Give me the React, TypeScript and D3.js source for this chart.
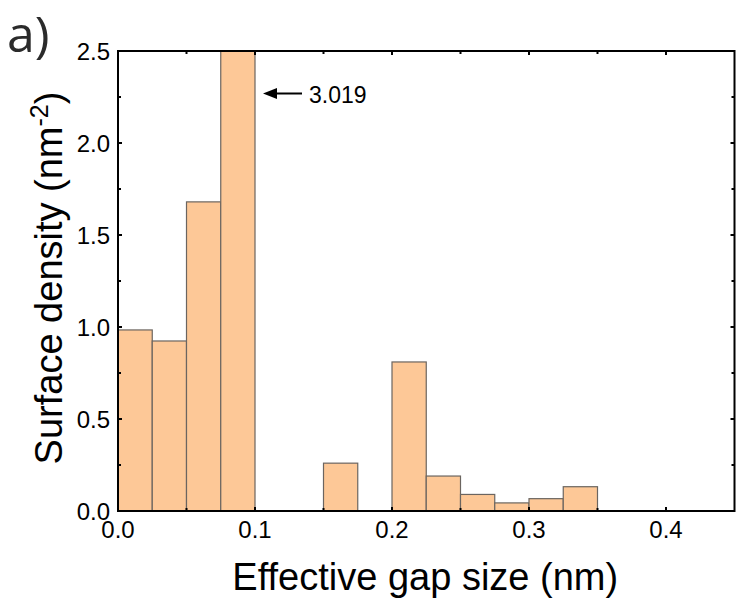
import React from 'react';
import * as d3 from 'd3';

// histogram bins (nm) and surface density (nm^-2)
const binStarts = [0, 0.025, 0.05, 0.075, 0.15, 0.2, 0.225, 0.25, 0.275, 0.3, 0.325];
const densities = [0.984, 0.924, 1.68, 3.019, 0.26, 0.81, 0.19, 0.09, 0.044, 0.067, 0.132];
const binWidth = 0.025;

const xTicks = [0, 0.1, 0.2, 0.3, 0.4];
const xMinor = [0.05, 0.15, 0.25, 0.35];
const yTicks = [0, 0.5, 1.0, 1.5, 2.0, 2.5];
const yMinor = [0.25, 0.75, 1.25, 1.75, 2.25];

const W = 736;
const H = 601;
const margin = { left: 118, right: 1.5, top: 51, bottom: 90 };

const font = "'Liberation Sans', Arial, sans-serif";

const Ticks = ({ children }: { children: React.ReactNode }) => <>{children}</>;

export default function App() {
	const x = d3.scaleLinear().domain([0, 0.45]).range([margin.left, W - margin.right]);
	const y = d3.scaleLinear().domain([0, 2.5]).range([H - margin.bottom, margin.top]);

	const x0 = x(0), x1 = x(0.45), y0 = y(0), y1 = y(2.5);
	const major = 4, minor = 3;
	const clip = 'plot-clip';
	const arrowY = 93.5;

	return (
		<svg width={W} height={H} style={{ position: 'absolute', left: 0, top: 0 }}>
			<defs>
				<clipPath id={clip}>
					<rect x={x0} y={y1} width={x1 - x0} height={y0 - y1} />
				</clipPath>
			</defs>
			<rect width={W} height={H} fill="#fff" />

			<g clipPath={`url(#${clip})`}>
				{binStarts.map((b, i) => (
					<rect key={b}
						x={x(b)}
						y={y(densities[i])}
						width={x(b + binWidth) - x(b)}
						height={y0 - y(densities[i])}
						fill="#fdc897"
						stroke="#6b6560"
						strokeWidth={1.2} />
				))}
			</g>

			{/* frame */}
			<rect x={x0} y={y1} width={x1 - x0} height={y0 - y1} fill="none" stroke="#000" strokeWidth={2} />

			{/* ticks, mirrored on every side */}
			<g stroke="#000" strokeWidth={2}>
				{xTicks.map(t => (
					<Ticks key={`xt${t}`}>
						<line x1={x(t)} x2={x(t)} y1={y0} y2={y0 - major} />
						<line x1={x(t)} x2={x(t)} y1={y1} y2={y1 + major} />
					</Ticks>
				))}
				{xMinor.map(t => (
					<Ticks key={`xm${t}`}>
						<line x1={x(t)} x2={x(t)} y1={y0} y2={y0 - minor} />
						<line x1={x(t)} x2={x(t)} y1={y1} y2={y1 + minor} />
					</Ticks>
				))}
				{yTicks.map(t => (
					<Ticks key={`yt${t}`}>
						<line x1={x0} x2={x0 + major} y1={y(t)} y2={y(t)} />
						<line x1={x1} x2={x1 - major} y1={y(t)} y2={y(t)} />
					</Ticks>
				))}
				{yMinor.map(t => (
					<Ticks key={`ym${t}`}>
						<line x1={x0} x2={x0 + minor} y1={y(t)} y2={y(t)} />
						<line x1={x1} x2={x1 - minor} y1={y(t)} y2={y(t)} />
					</Ticks>
				))}
			</g>

			{/* tick labels */}
			<g fontFamily={font} fontSize={24} fill="#000">
				{xTicks.map(t => (
					<text key={`xl${t}`} x={x(t)} y={y0 + 27} textAnchor="middle">{d3.format('.1f')(t)}</text>
				))}
				{yTicks.map(t => (
					<text key={`yl${t}`} x={x0 - 8} y={y(t) + 8.5} textAnchor="end">{d3.format('.1f')(t)}</text>
				))}
			</g>

			{/* axis titles */}
			<text x={(x0 + x1) / 2 - 1} y={590} textAnchor="middle" fontFamily={font} fontSize={38}>
				Effective gap size (nm)
			</text>
			<text transform={`translate(62,278)rotate(-90)`} textAnchor="middle" fontFamily={font} fontSize={38}>
				Surface density (nm<tspan dy={-14} fontSize={25}>-2</tspan><tspan dy={14}>)</tspan>
			</text>

			{/* clipped bar annotation */}
			<line x1={302} x2={274} y1={arrowY} y2={arrowY} stroke="#000" strokeWidth={2} />
			<path d={`M 263 ${arrowY} L 277 ${arrowY - 5.5} L 277 ${arrowY + 5.5} Z`} fill="#000" />
			<text x={309} y={103} fontFamily={font} fontSize={23}>3.019</text>

			<text x={7} y={52} fontFamily="'Open Sans', 'Noto Sans', sans-serif" fontSize={50} fill="#2b2b2b">a)</text>
		</svg>
	);
}
